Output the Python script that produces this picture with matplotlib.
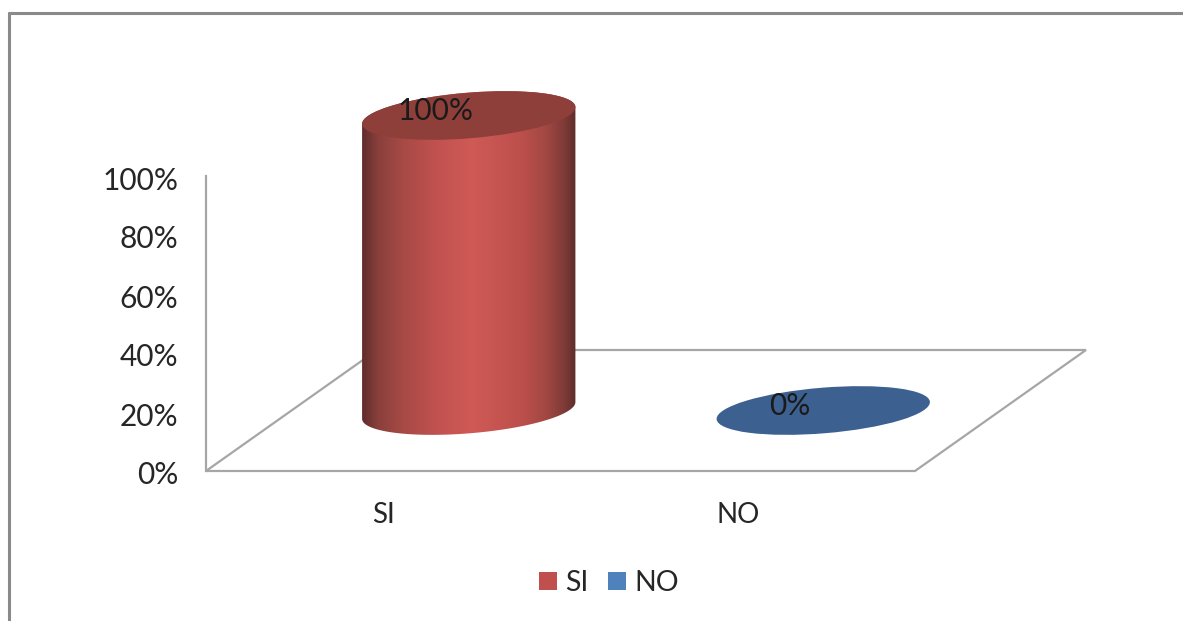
import numpy as np
import matplotlib
matplotlib.use("Agg")
import matplotlib.pyplot as plt
from matplotlib.colors import LinearSegmentedColormap
from matplotlib.lines import Line2D
from matplotlib.patches import Ellipse, Patch, PathPatch, Polygon
from matplotlib.path import Path
from matplotlib.transforms import Affine2D, IdentityTransform, ScaledTranslation

# Survey result
categories = ["SI", "NO"]
values = [100, 0]
y_ticks = [0, 20, 40, 60, 80, 100]

W, H = 1183, 621
plt.rcParams["font.family"] = ["Lato", "DejaVu Sans"]
TEXT = "#262626"
FONT = 21.5

fig = plt.figure(figsize=(W / 100, H / 100), dpi=100, facecolor="white")

# Plot box: x 206..915 px, y 176..471 px from the top edge
left, right, top, bottom = 206, 915, 176, 471
ax = fig.add_axes([left / W, 1 - bottom / H, (right - left) / W, (bottom - top) / H])
ax.set_xlim(0, 2)
ax.set_ylim(0, 100)
ax.patch.set_visible(False)
for name in ("top", "right", "bottom"):
    ax.spines[name].set_visible(False)
ax.spines["left"].set_color("#a6a6a6")
ax.spines["left"].set_linewidth(1.6)

ax.set_yticks(y_ticks)
ax.set_yticklabels([f"{t}%" for t in y_ticks], fontsize=FONT, color=TEXT)
ax.set_xticks(np.arange(len(categories)) + 0.5)
ax.set_xticklabels(categories, fontsize=20, color=TEXT)
ax.tick_params(axis="y", length=0, pad=20)
ax.tick_params(axis="x", length=0, pad=22)
nudge = ScaledTranslation(0, -2 / 100, fig.dpi_scale_trans)
for lab in ax.get_yticklabels():
    lab.set_transform(lab.get_transform() + nudge)

# Floor parallelogram, pushed back along the oblique depth direction
DEPTH_X, DEPTH_Y = 171, 121
x0, y0 = ax.transData.transform((0, 0))
x1, _ = ax.transData.transform((2, 0))
floor = np.array([[x0, y0], [x1, y0], [x1 + DEPTH_X, y0 + DEPTH_Y], [x0 + DEPTH_X, y0 + DEPTH_Y]])
ax.add_patch(Polygon(floor, closed=True, fill=False, edgecolor="#a6a6a6", linewidth=1.6,
                     transform=IdentityTransform(), clip_on=False, zorder=1, joinstyle="miter"))

# Cylinder cross-section
SEMI_A, SEMI_B, TILT = 107.0, 22.8, 4.7
theta = np.deg2rad(TILT)
t_edge = np.arctan2(-SEMI_B * np.sin(theta), SEMI_A * np.cos(theta))


def ellipse_points(cx, cy, t):
    px = SEMI_A * np.cos(t)
    py = SEMI_B * np.sin(t)
    return np.column_stack([cx + px * np.cos(theta) - py * np.sin(theta),
                            cy + px * np.sin(theta) + py * np.cos(theta)])


def cap(cx, cy, color, zorder):
    ax.add_patch(Ellipse((0, 0), 2 * SEMI_A, 2 * SEMI_B, facecolor=color, edgecolor="none",
                         transform=Affine2D().rotate(theta).translate(cx, cy),
                         clip_on=False, zorder=zorder))


shade = LinearSegmentedColormap.from_list("cyl", [
    (0.00, "#5c2c2a"), (0.08, "#8a403c"), (0.20, "#a84a46"), (0.36, "#c25250"),
    (0.52, "#cf5a56"), (0.74, "#bd504c"), (0.86, "#a34844"), (0.95, "#7d3a37"),
    (1.00, "#5f2d2b")])

BODY_COLORS = ["#8f3f3a", "#3c6191"]
for i, (name, value) in enumerate(zip(categories, values)):
    bx, by = ax.transData.transform((i + 0.5, 0))
    bx += DEPTH_X / 2
    by += DEPTH_Y / 2
    _, rise = ax.transData.transform((0, value)) - ax.transData.transform((0, 0))
    tx, ty = bx, by + rise

    if value > 0:
        lower = ellipse_points(bx, by, np.linspace(t_edge + np.pi, t_edge + 2 * np.pi, 80))
        upper = ellipse_points(tx, ty, np.linspace(t_edge, t_edge + np.pi, 80))
        outline = Path(np.vstack([lower, upper, lower[:1]]), closed=True)
        (dx0, _), (dx1, _) = ax.transData.inverted().transform(
            [(bx - SEMI_A * 1.003, 0), (bx + SEMI_A * 1.003, 0)])
        grad = ax.imshow(np.linspace(0, 1, 256)[None, :], cmap=shade, aspect="auto",
                         extent=(dx0, dx1, -30, 130), zorder=2, interpolation="bilinear")
        grad.set_clip_path(PathPatch(outline, transform=IdentityTransform()))
        grad.set_clip_box(fig.bbox)
        ax.set_xlim(0, 2)
        ax.set_ylim(0, 100)
    cap(tx, ty, BODY_COLORS[i], 3)

    # Value label sits on the end cap
    ax.annotate(f"{value}%", xy=(tx, ty), xycoords=IdentityTransform(), xytext=(-24, 3),
                textcoords="offset points", ha="center", va="center", fontsize=FONT,
                color="#1a1a1a", zorder=4, annotation_clip=False)

# Legend
handles = [Patch(facecolor="#c0504d", edgecolor="none", label=categories[0]),
           Patch(facecolor="#4f81bd", edgecolor="none", label=categories[1])]
fig.legend(handles=handles, loc="center", bbox_to_anchor=(609 / W, 1 - 583 / H), ncol=2,
           frameon=False, fontsize=20.5, labelcolor=TEXT, handlelength=0.62, handleheight=0.62,
           handletextpad=0.3, columnspacing=0.68)

# Chart frame, cropped on the right and at the bottom
frame = dict(color="#8a8a8a", linewidth=2.2, transform=fig.transFigure, solid_capstyle="butt")
fig.add_artist(Line2D([8 / W, 1], [1 - 13 / H, 1 - 13 / H], **frame))
fig.add_artist(Line2D([9 / W, 9 / W], [0, 1 - 12 / H], **frame))

fig.savefig("out.png", dpi=100, facecolor="white")
